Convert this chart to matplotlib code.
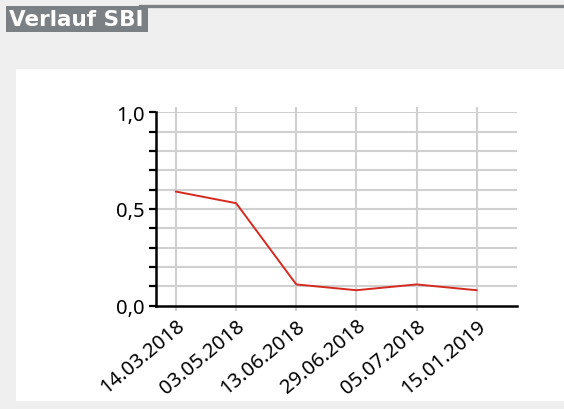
import matplotlib
matplotlib.use("Agg")
import matplotlib.pyplot as plt
from matplotlib.patches import Rectangle
from matplotlib.lines import Line2D

# Data
dates = ["14.03.2018", "03.05.2018", "13.06.2018", "29.06.2018", "05.07.2018", "15.01.2019"]
sbi = [0.59, 0.53, 0.11, 0.08, 0.11, 0.08]
ytick_vals = [0.0, 0.5, 1.0]
ytick_labels = ["0,0", "0,5", "1,0"]
title = "Verlauf SBI"

W, H = 564, 410
fig = plt.figure(figsize=(W / 100, H / 100), dpi=100)
fig.patch.set_facecolor("#efefef")

# white panel
fig.patches.append(Rectangle((16 / W, 1 - 402 / H), (W - 16) / W, (402 - 70) / H,
                             transform=fig.transFigure, facecolor="white",
                             edgecolor="none", zorder=-5))
# top gray rule
fig.lines.append(Line2D([140 / W, 1.0], [1 - 6.5 / H, 1 - 6.5 / H], transform=fig.transFigure,
                        color="#7b8084", lw=2.4, zorder=1))
# title box
fig.patches.append(Rectangle((6 / W, 1 - 33 / H), (148 - 6) / W, (33 - 7) / H,
                             transform=fig.transFigure, facecolor="#7b8084",
                             edgecolor="none", zorder=2))
fig.text(9 / W, 1 - 20.5 / H, title, color="white", fontsize=15.5, fontweight="bold",
         family="DejaVu Sans", va="center", ha="left", zorder=3)

ax = fig.add_axes([156 / W, 1 - 306.7 / H, (516.7 - 156) / W, (306.7 - 113.3) / H])
ax.set_zorder(5)
ax.set_facecolor("white")
x = list(range(len(dates)))
ax.set_xlim(-1 / 3, len(dates) - 1 + 2 / 3)
ax.set_ylim(0, 1.0)

# horizontal grid
for v in [i / 10 for i in range(1, 11)]:
    ax.axhline(v, color="#d0d0d0", lw=1.5, zorder=1)
# vertical grid, extending a bit beyond the axes
ext = 5 / 193.3
ax.vlines(x, -ext, 1 + ext, transform=ax.get_xaxis_transform(), color="#d0d0d0",
          lw=1.5, zorder=1, clip_on=False)

ax.plot(x, sbi, color="#d42a20", lw=1.4, zorder=3)

for s in ["top", "right"]:
    ax.spines[s].set_visible(False)
for s in ["left", "bottom"]:
    ax.spines[s].set_color("black")
    ax.spines[s].set_linewidth(1.8)
    ax.spines[s].set_zorder(4)

ax.set_yticks([i / 10 for i in range(0, 11)])
ax.set_yticklabels([ytick_labels[ytick_vals.index(round(v / 10, 1))] if round(v / 10, 1) in ytick_vals else ""
                    for v in range(0, 11)])
ax.tick_params(axis="y", direction="out", length=5, width=1.6, pad=3, labelsize=14.5,
               colors="black")
ax.set_xticks(x)
ax.set_xticklabels(dates, rotation=40, ha="right", rotation_mode="anchor",
                   fontsize=14.5)
ax.tick_params(axis="x", length=0, pad=7)
for lab in ax.get_xticklabels() + ax.get_yticklabels():
    lab.set_family("Noto Sans")

fig.savefig("out.png", dpi=100, facecolor=fig.get_facecolor())
